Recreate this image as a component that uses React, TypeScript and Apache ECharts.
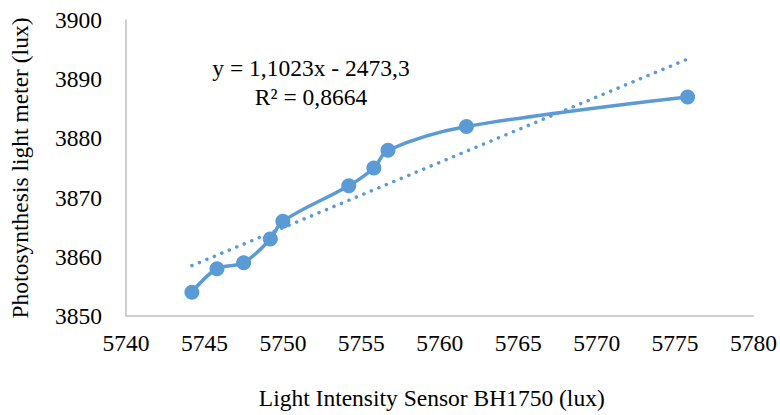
import React, { useEffect, useRef } from "react";
import * as echarts from "echarts";

const sensorLux = [5744.2, 5745.8, 5747.5, 5749.2, 5750.0, 5754.2, 5755.8, 5756.7, 5761.7, 5775.8];
const meterLux = [3854, 3858, 3859, 3863, 3866, 3872, 3875, 3878, 3882, 3887];
const trendX = [5744.2, 5775.8];
const trendY = [3858.5, 3893.4];
const equationText = "y = 1,1023x - 2473,3";
const r2Text = "R² = 0,8664";
const xTitle = "Light Intensity Sensor BH1750 (lux)";
const yTitle = "Photosynthesis light meter (lux)";

const FONT = "Liberation Serif";
const FS = 23.5;
const BLUE = "#5B9BD5";

export default function App() {
  const ref = useRef<HTMLDivElement>(null);
  useEffect(() => {
    if (!ref.current) return;
    const chart = echarts.init(ref.current, null, { renderer: "svg" });
    chart.setOption({
      animation: false,
      backgroundColor: "#ffffff",
      textStyle: { fontFamily: FONT },
      grid: { left: 126, right: 26, top: 20, bottom: 96 },
      xAxis: {
        type: "value",
        min: 5740,
        max: 5780,
        interval: 5,
        name: xTitle,
        nameLocation: "middle",
        nameGap: 70,
        nameTextStyle: { fontFamily: FONT, fontSize: FS, color: "#000", padding: [0, 16, 0, 0] },
        axisLine: { show: true, lineStyle: { color: "#bfbfbf", width: 1.5 } },
        axisTick: { show: false },
        splitLine: { show: false },
        axisLabel: {
          fontFamily: FONT,
          fontSize: FS,
          color: "#000",
          margin: 15,
          formatter: (v: number) => String(v),
        },
      },
      yAxis: {
        type: "value",
        min: 3850,
        max: 3900,
        interval: 10,
        name: yTitle,
        nameLocation: "middle",
        nameGap: 94,
        nameTextStyle: { fontFamily: FONT, fontSize: FS, color: "#000" },
        axisLine: { show: true, lineStyle: { color: "#bfbfbf", width: 1.5 } },
        axisTick: { show: false },
        splitLine: { show: false },
        axisLabel: {
          fontFamily: FONT,
          fontSize: FS,
          color: "#000",
          margin: 24,
          formatter: (v: number) => String(v),
        },
      },
      series: [
        {
          type: "line",
          data: trendX.map((x, i) => [x, trendY[i]]),
          showSymbol: false,
          symbol: "none",
          lineStyle: { color: BLUE, width: 3.5, type: [0.1, 8], cap: "round" },
          z: 1,
        },
        {
          type: "line",
          data: sensorLux.map((x, i) => [x, meterLux[i]]),
          smooth: 0.35,
          symbol: "circle",
          symbolSize: 15,
          itemStyle: { color: BLUE },
          lineStyle: { color: BLUE, width: 3.5 },
          z: 2,
        },
      ],
      graphic: [
        {
          type: "text",
          x: 311,
          y: 68,
          style: {
            text: equationText,
            fontFamily: FONT,
            fontSize: FS,
            fill: "#000",
            align: "center",
            verticalAlign: "middle",
          },
        },
        {
          type: "text",
          x: 311,
          y: 97,
          style: {
            text: r2Text,
            fontFamily: FONT,
            fontSize: FS,
            fill: "#000",
            align: "center",
            verticalAlign: "middle",
          },
        },
      ],
    });
    return () => chart.dispose();
  }, []);
  return <div ref={ref} style={{ width: 780, height: 415, position: "absolute", left: 0, top: 0 }} />;
}
